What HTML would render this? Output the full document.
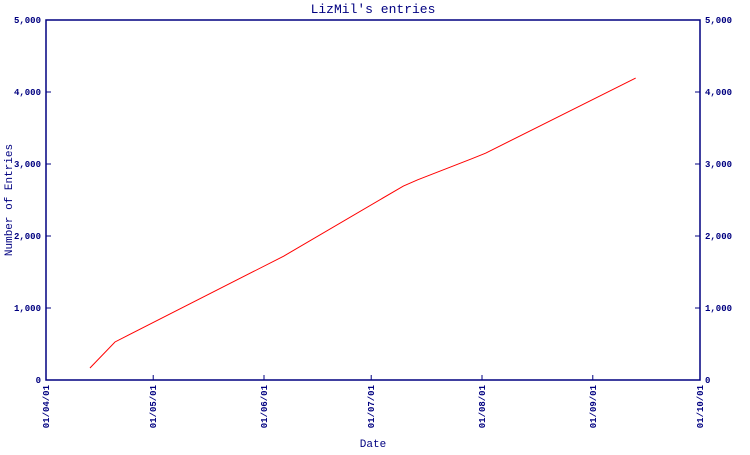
<!DOCTYPE html>
<html><head><meta charset="utf-8"><style>
body{margin:0;background:#fff}
svg text{font-family:"Liberation Mono",monospace;fill:#000080}
</style></head><body>
<svg width="750" height="450" id="c">
<text x="373" y="13" font-size="13" text-anchor="middle">LizMil's entries</text>
<text x="373" y="447" font-size="11" text-anchor="middle">Date</text>
<text transform="translate(12,200) rotate(-90)" font-size="11" text-anchor="middle">Number of Entries</text>
<rect x="46" y="20" width="654" height="360" fill="none" stroke="#000080" stroke-width="1.5"/>
<g id="ax"></g>
<polyline id="ln" fill="none" stroke="#ff0000" stroke-width="1"/>
</svg>
<script>
const days=[12.3,19.3,66.5,100,104,119,123,165];
const values=[167,528,1720,2694,2780,3070,3150,4194];
const yTicks=[0,1000,2000,3000,4000,5000];
const yTickLabels=["0","1,000","2,000","3,000","4,000","5,000"];
const xTickDays=[0,30,61,91,122,153,183];
const xTickLabels=["01/04/01","01/05/01","01/06/01","01/07/01","01/08/01","01/09/01","01/10/01"];
const X0=46,X1=700,Y0=380,Y1=20;
const xs=d=>X0+d/183*(X1-X0);
const ys=v=>Y0-v/5000*(Y0-Y1);
const ns="http://www.w3.org/2000/svg";
const ax=document.getElementById('ax');
function mk(t,a){const e=document.createElementNS(ns,t);for(const k in a)e.setAttribute(k,a[k]);ax.appendChild(e);return e;}
yTicks.forEach((v,i)=>{
 const y=ys(v);
 let t=mk('line',{x1:X0,x2:X0+5,y1:y,y2:y,stroke:'#000080'});
 
 
 t=mk('line',{x1:X1-5,x2:X1,y1:y,y2:y,stroke:'#000080'});
 
 
 let l=mk('text',{x:41,y:y+3,'font-size':9,'text-anchor':'end','font-weight':'bold'});l.textContent=yTickLabels[i];
 
 
 l=mk('text',{x:705,y:y+3,'font-size':9,'font-weight':'bold'});l.textContent=yTickLabels[i];
 
 
});
xTickDays.forEach((d,i)=>{
 const x=xs(d);
 let t=mk('line',{x1:x,x2:x,y1:Y0-5,y2:Y0,stroke:'#000080'});
 
 
 let l=mk('text',{transform:`translate(${x+3},385) rotate(-90)`,'font-size':9,'text-anchor':'end','font-weight':'bold'});l.textContent=xTickLabels[i];
 
 
});
document.getElementById('ln').setAttribute('points',days.map((d,i)=>xs(d)+','+ys(values[i])).join(' '));
</script>
</body></html>
